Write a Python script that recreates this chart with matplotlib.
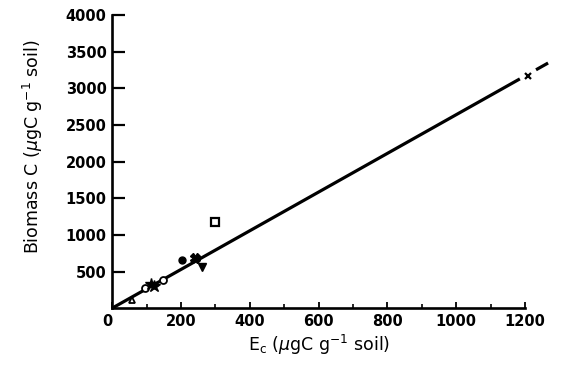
import numpy as np
import matplotlib
matplotlib.use("Agg")
import matplotlib.pyplot as plt
from matplotlib.ticker import MultipleLocator

# data (E_c vs biomass C, ugC per g soil)
open_tri_x, open_tri_y = [58], [110]
open_circ_x, open_circ_y = [96, 148], [275, 382]
filled_star_x, filled_star_y = [112, 122], [330, 305]
filled_drop_x, filled_drop_y = [203], [655]
filled_blob_x, filled_blob_y = [241], [690]
filled_vtri_x, filled_vtri_y = [262], [565]
open_sq_x, open_sq_y = [299], [1175]
cross_x, cross_y = [1209], [3167]

# fitted line through origin, drawn with a gap around the last point
slope = 2.64
line_segments = [(0, 1185), (1232, 1267)]

xticks = [0, 200, 400, 600, 800, 1000, 1200]
yticks = [500, 1000, 1500, 2000, 2500, 3000, 3500, 4000]

plt.rcParams['font.family'] = 'DejaVu Sans'
fig = plt.figure(figsize=(5.84, 3.66), dpi=100)
ax = fig.add_axes([0.192, 0.158, 0.707, 0.801])

for x0, x1 in line_segments:
    xs = np.array([x0, x1])
    ax.plot(xs, slope * xs, color='black', lw=2.3, clip_on=False,
            solid_capstyle='butt')

mk = dict(color='black', ls='none', clip_on=False, zorder=3)
ax.plot(open_tri_x, open_tri_y, marker='^', ms=5, mfc='white', mew=1.3, **mk)
ax.plot(open_circ_x, open_circ_y, marker='o', ms=5, mfc='white', mew=1.3, **mk)
ax.plot(filled_star_x, filled_star_y, marker='*', ms=9, **mk)
ax.plot(filled_drop_x, filled_drop_y, marker='o', ms=5, **mk)
ax.plot(filled_blob_x, filled_blob_y, marker='X', ms=7, **mk)
ax.plot(filled_vtri_x, filled_vtri_y, marker='v', ms=6, **mk)
ax.plot(open_sq_x, open_sq_y, marker='s', ms=6, mfc='white', mew=1.6, **mk)
ax.plot(cross_x, cross_y, marker='x', ms=4, mew=1.6, **mk)

ax.set_xlim(0, 1200)
ax.set_ylim(0, 4000)
ax.set_xticks(xticks)
ax.xaxis.set_minor_locator(MultipleLocator(100))
ax.set_yticks(yticks)

ax.spines['top'].set_visible(False)
ax.spines['right'].set_visible(False)
ax.spines['left'].set_linewidth(1.9)
ax.spines['bottom'].set_linewidth(1.9)

ax.tick_params(axis='y', direction='in', length=9, width=1.6, labelsize=10.5, pad=4)
ax.tick_params(axis='x', which='major', direction='in', length=4, width=1.3,
               labelsize=10.5, pad=4)
ax.tick_params(axis='x', which='minor', direction='in', length=3, width=1.2)
for lab in ax.get_xticklabels() + ax.get_yticklabels():
    lab.set_fontweight('bold')
ax.get_xticklabels()[0].set_horizontalalignment('right')

ax.set_xlabel(r'E$_{\rm c}$ ($\mu$gC g$^{-1}$ soil)', fontsize=12.5, labelpad=3)
ax.set_ylabel(r'Biomass C ($\mu$gC g$^{-1}$ soil)', fontsize=12.5)
ax.yaxis.set_label_coords(-0.162, 0.55)

fig.savefig('out.png', dpi=100)
